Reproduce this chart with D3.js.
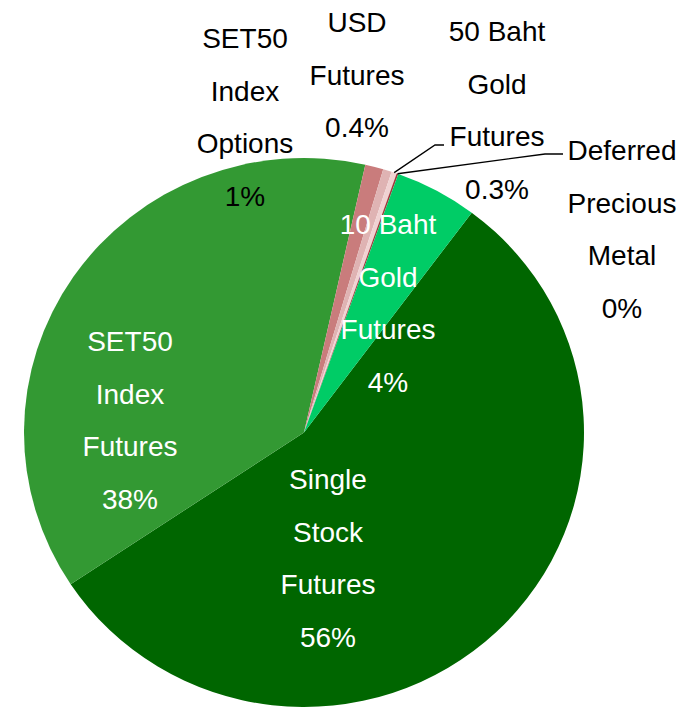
<!DOCTYPE html>
<html>
<head>
<meta charset="utf-8">
<script src="https://cdn.jsdelivr.net/npm/d3@7"></script>
<style>
  body { margin: 0; background: #fff; }
  svg { display: block; }
</style>
</head>
<body>
<div id="vis"></div>
<script>
const WIDTH = 694;
const HEIGHT = 710;

// data, clockwise from the first slice
const categories = [
  "Single Stock Futures",
  "SET50 Index Futures",
  "SET50 Index Options",
  "USD Futures",
  "50 Baht Gold Futures",
  "Deferred Precious Metal",
  "10 Baht Gold Futures"
];
const shares = [55.4, 37.8, 1.05, 0.5, 0.3, 0.1, 4.75];
const pctLabels = ["56%", "38%", "1%", "0.4%", "0.3%", "0%", "4%"];
const colores = ["#006600", "#339933", "#C97C7C", "#DFB3B3", "#F0D2D2", "#A0393B", "#00CC66"];

// label layout (text lines, centre x, first baseline, colour)
const etiquetas = [
  { lines: ["Single", "Stock", "Futures"], x: 328, y: 489, fill: "#fff" },
  { lines: ["SET50", "Index", "Futures"], x: 130, y: 351, fill: "#fff" },
  { lines: ["SET50", "Index", "Options"], x: 245, y: 48, fill: "#000" },
  { lines: ["USD", "Futures"], x: 357, y: 32, fill: "#000" },
  { lines: ["50 Baht", "Gold", "Futures"], x: 497, y: 41, fill: "#000" },
  { lines: ["Deferred", "Precious", "Metal"], x: 622, y: 160, fill: "#000" },
  { lines: ["10 Baht", "Gold", "Futures"], x: 388, y: 234, fill: "#fff" }
];
const LINE_H = 52.5;

const CX = 304;
const CY = 432.5;
const R = 280;
const SY = 274.5 / 280;

const svg = d3.select("#vis").append("svg")
  .attr("width", WIDTH)
  .attr("height", HEIGHT);

const toRad = d => d * Math.PI / 180;
const START = 36.8;

const pie = d3.pie()
  .sort(null)
  .value(d => d)
  .startAngle(toRad(START))
  .endAngle(toRad(START + 360));

const arcos = pie(shares);
const arco = d3.arc().innerRadius(0).outerRadius(R);

const contenedorPie = svg.append("g")
  .attr("transform", `translate(${CX} ${CY}) scale(1 ${SY})`);

contenedorPie.selectAll("path")
  .data(arcos)
  .join("path")
  .attr("d", arco)
  .attr("fill", (d, i) => colores[i]);

// leader lines for the two smallest slices
const puntoBorde = (d) => {
  const a = (d.startAngle + d.endAngle) / 2;
  return [CX + R * Math.sin(a), CY - R * Math.cos(a) * SY];
};

const lineas = [
  { idx: 4, pts: [[435, 145], [444, 145]] },
  { idx: 5, pts: [[545, 154], [563, 154]] }
];

svg.append("g").selectAll("path")
  .data(lineas)
  .join("path")
  .attr("d", d => d3.line()([puntoBorde(arcos[d.idx]), ...d.pts]))
  .attr("fill", "none")
  .attr("stroke", "#000")
  .attr("stroke-width", 1.3);

const textos = svg.append("g")
  .attr("font-family", "Arial, 'Liberation Sans', sans-serif")
  .attr("font-size", 28)
  .attr("text-anchor", "middle");

etiquetas.forEach((e, i) => {
  const t = textos.append("text")
    .attr("fill", e.fill);
  e.lines.concat([pctLabels[i]]).forEach((ln, j) => {
    t.append("tspan")
      .attr("x", e.x)
      .attr("y", e.y + j * LINE_H)
      .text(ln);
  });
});
</script>
</body>
</html>
